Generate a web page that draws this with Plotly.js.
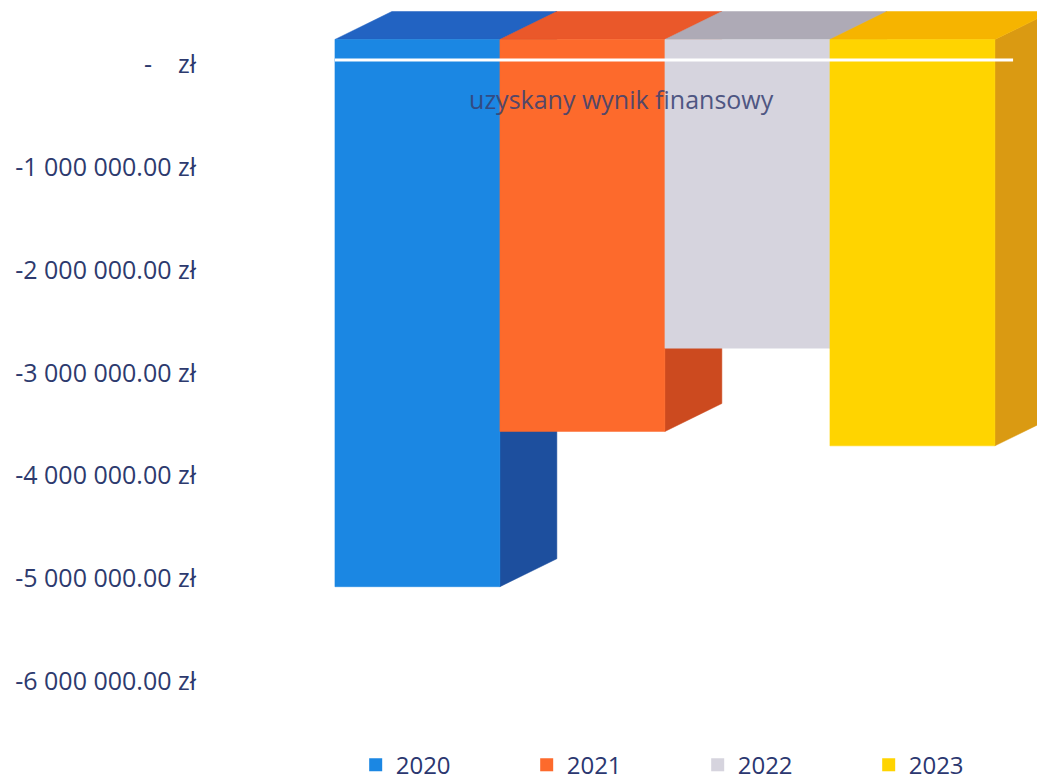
<!DOCTYPE html>
<html>
<head>
<meta charset="utf-8">
<script src="https://cdn.plot.ly/plotly-3.0.1.min.js"></script>
<style>html,body{margin:0;padding:0;background:#fff;}#chart{width:1037px;height:780px;}</style>
</head>
<body>
<div id="chart"></div>
<script>
// ---- data ----
const years = ['2020', '2021', '2022', '2023'];
const results = [-5080000, -3570000, -2760000, -3710000];
const tickValues = [0, -1000000, -2000000, -3000000, -4000000, -5000000, -6000000];
const tickLabels = ['-\u00a0\u00a0\u00a0\u00a0zł', '-1 000 000.00 zł', '-2 000 000.00 zł', '-3 000 000.00 zł',
                    '-4 000 000.00 zł', '-5 000 000.00 zł', '-6 000 000.00 zł'];
const chartTitle = 'uzyskany wynik finansowy';

// ---- style ----
const frontColors = ['#1b87e3', '#fd6a2c', '#d6d4de', '#ffd400'];
const topColors   = ['#2263c2', '#ea582a', '#aeaab6', '#f6b400'];
const sideColors  = ['#1d4f9e', '#cc4a1f', '#a6a2ae', '#da9a12'];
const halfW = 0.5, depthX = 0.345, depthY = 272000, lift = 243000;
const baseLineLevel = 44000, baseLineOverhang = 0.11;

const sides = [], tops = [], fronts = [], legendTraces = [];
years.forEach((yr, i) => {
  const v = results[i];
  const l = i - halfW, r = i + halfW;
  const common = {type: 'scatter', mode: 'lines', fill: 'toself', hoverinfo: 'skip', showlegend: false};
  sides.push(Object.assign({}, common, {
    x: [r, r + depthX, r + depthX, r, r],
    y: [lift, lift + depthY, v + depthY, v, lift],
    fillcolor: sideColors[i], line: {color: sideColors[i], width: 0.5}
  }));
  tops.push(Object.assign({}, common, {
    x: [l, r, r + depthX, l + depthX, l],
    y: [lift, lift, lift + depthY, lift + depthY, lift],
    fillcolor: topColors[i], line: {color: topColors[i], width: 0.5}
  }));
  fronts.push(Object.assign({}, common, {
    x: [l, r, r, l, l],
    y: [lift, lift, v, v, lift],
    fillcolor: frontColors[i], line: {color: frontColors[i], width: 0.5}
  }));
  legendTraces.push({
    type: 'scatter', mode: 'markers', x: [null], y: [null], name: yr,
    marker: {symbol: 'square', size: 13, color: frontColors[i]}
  });
});

const baseLine = {
  type: 'scatter', mode: 'lines', hoverinfo: 'skip', showlegend: false,
  x: [-halfW, years.length - 1 + halfW + baseLineOverhang],
  y: [baseLineLevel, baseLineLevel],
  line: {color: '#ffffff', width: 3}
};

const data = [].concat(sides, tops, fronts, [baseLine], legendTraces);

const layout = {
  width: 1037, height: 780,
  margin: {l: 197, r: 0, t: 0, b: 50},
  paper_bgcolor: '#ffffff', plot_bgcolor: '#ffffff',
  showlegend: true,
  xaxis: {range: [-1.336, 3.755], visible: false, fixedrange: true},
  yaxis: {
    range: [-6474000, 627000], tickvals: tickValues, ticktext: tickLabels,
    showgrid: false, zeroline: false, showline: false, ticks: '',
    tickfont: {family: 'Open Sans', size: 25, color: '#2d3a6e'}, fixedrange: true
  },
  title: {
    text: chartTitle, xref: 'container', yref: 'container',
    x: 0.599, y: 0.872, xanchor: 'center', yanchor: 'middle',
    font: {family: 'Open Sans', size: 25, color: 'rgba(55,65,115,0.85)'}
  },
  legend: {
    orientation: 'h', xref: 'container', yref: 'container',
    x: 0.343, y: 0.019, xanchor: 'left', yanchor: 'middle',
    entrywidth: 126, entrywidthmode: 'pixels',
    font: {family: 'Open Sans', size: 24, color: '#2b3770'},
    bgcolor: 'rgba(0,0,0,0)'
  }
};

Plotly.newPlot('chart', data, layout, {displayModeBar: false, staticPlot: true});
</script>
</body>
</html>
